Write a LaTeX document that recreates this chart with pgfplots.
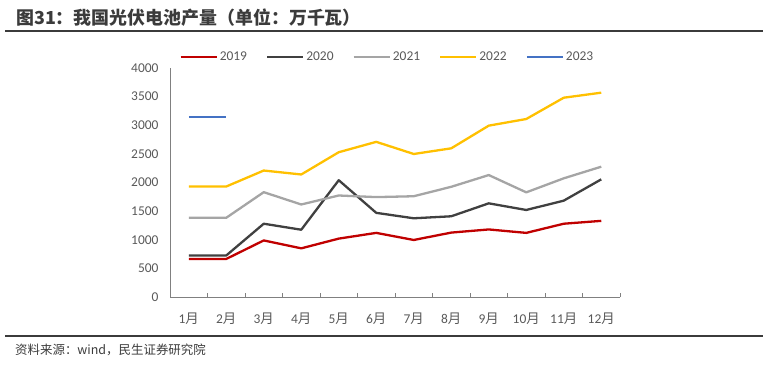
\documentclass[border=0pt]{standalone}
\usepackage{fontspec}
\setmainfont{Carlito}
\newfontfamily\cjk{Noto Sans CJK SC}
\usepackage{pgfplots}
\pgfplotsset{compat=1.18}
\definecolor{cA}{HTML}{C00000}
\definecolor{cB}{HTML}{404040}
\definecolor{cC}{HTML}{A5A5A5}
\definecolor{cD}{HTML}{FFC000}
\definecolor{cE}{HTML}{4472C4}
\definecolor{titlegray}{HTML}{3B3B3B}
\definecolor{txtgray}{HTML}{595959}
\definecolor{axgray}{HTML}{808080}
\begin{document}
\begin{tikzpicture}[x=1bp,y=1bp]
\path[use as bounding box] (0,0) rectangle (763,364);
\draw[titlegray, line width=1.6bp] (5,333) -- (763,333);
\node[anchor=base west, inner sep=0, text=titlegray, font=\cjk\bfseries\fontsize{18}{20}\selectfont] at (16,339.5) {图31：我国光伏电池产量（单位：万千瓦）};
\draw[titlegray, line width=2.4bp] (5,28) -- (763,28);
\node[anchor=base west, inner sep=0, text=titlegray, font=\cjk\fontsize{12.5}{14}\selectfont] at (15,10) {资料来源：wind，民生证券研究院};
\begin{axis}[
  at={(170bp,67bp)}, anchor=south west,
  scale only axis, width=450bp, height=229bp,
  xmin=0.5, xmax=12.5, ymin=0, ymax=4000,
  enlargelimits=false,
  axis x line=bottom, axis y line=left,
  axis line style={-, axgray, line width=1bp},
  xtick={1,...,12},
  xticklabels={1{\cjk 月},2{\cjk 月},3{\cjk 月},4{\cjk 月},5{\cjk 月},6{\cjk 月},7{\cjk 月},8{\cjk 月},9{\cjk 月},10{\cjk 月},11{\cjk 月},12{\cjk 月}},
  minor xtick={0.5,1.5,...,12.5},
  major tick length=0pt, minor tick length=4bp,
  tick align=inside,
  minor tick style={axgray, line width=1bp},
  ytick={0,500,...,4000},
  ytick style={draw=none},
  /pgf/number format/assume math mode=true,
  /pgf/number format/1000 sep={},
  ticklabel style={font=\fontsize{13.5}{15}\selectfont, text=txtgray},
  yticklabel style={xshift=-8bp},
  xticklabel style={yshift=-12bp},
  legend columns=5,
  legend style={at={(0.483,1.048)}, anchor=center, draw=none, fill=none,
    font=\fontsize{13.5}{15}\selectfont, text=txtgray,
    /tikz/every even column/.append style={column sep=17bp}},
  legend image code/.code={\draw[#1] (0bp,0bp) -- (36bp,0bp);},
  every axis plot/.append style={line width=2.3bp, line join=round},
]
\addplot[cA, mark=none] coordinates {(1,665)(2,665)(3,988)(4,850)(5,1020)(6,1120)(7,996)(8,1125)(9,1180)(10,1120)(11,1280)(12,1330)};
\addlegendentry{2019}
\addplot[cB, mark=none] coordinates {(1,725)(2,725)(3,1280)(4,1175)(5,2040)(6,1470)(7,1375)(8,1410)(9,1636)(10,1520)(11,1683)(12,2055)};
\addlegendentry{2020}
\addplot[cC, mark=none] coordinates {(1,1384)(2,1384)(3,1831)(4,1616)(5,1773)(6,1745)(7,1760)(8,1925)(9,2130)(10,1828)(11,2073)(12,2276)};
\addlegendentry{2021}
\addplot[cD, mark=none] coordinates {(1,1930)(2,1930)(3,2209)(4,2140)(5,2529)(6,2710)(7,2498)(8,2597)(9,2993)(10,3109)(11,3481)(12,3569)};
\addlegendentry{2022}
\addplot[cE, mark=none] coordinates {(1,3150)(2,3150)};
\addlegendentry{2023}
\end{axis}
\end{tikzpicture}
\end{document}
